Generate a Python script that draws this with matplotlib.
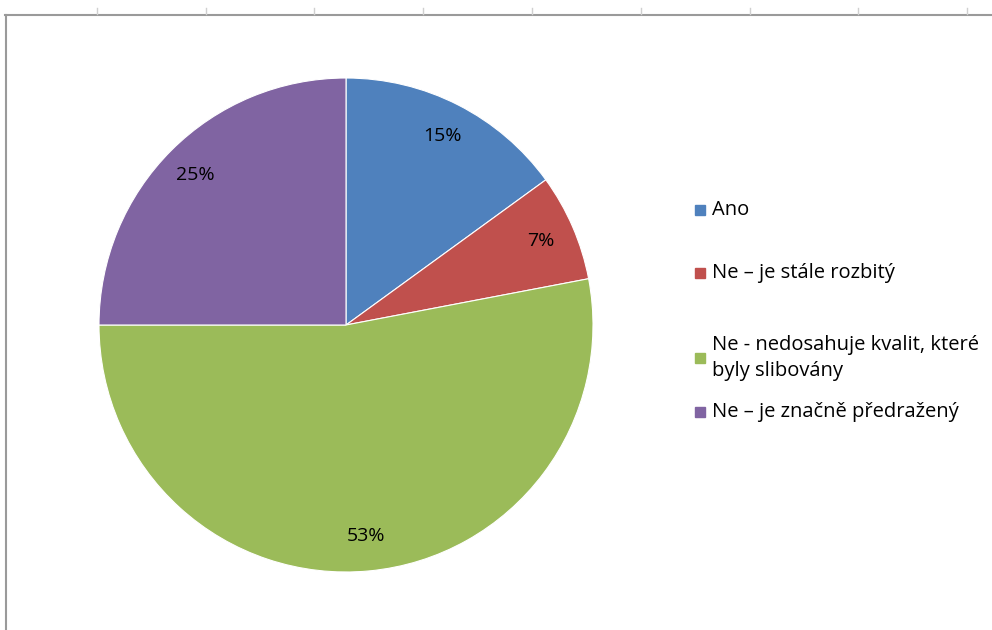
import matplotlib.pyplot as plt
from matplotlib.lines import Line2D
from matplotlib.patches import Rectangle

labels = ["Ano", "Ne – je stále rozbitý",
          "Ne - nedosahuje kvalit, které\nbyly slibovány",
          "Ne – je značně předražený"]
values = [15, 7, 53, 25]
colors = ["#4F81BD", "#C0504D", "#9BBB59", "#8064A2"]

W, H = 992, 630
fig = plt.figure(figsize=(W / 100, H / 100), dpi=100)
plt.rcParams['font.family'] = ['Open Sans', 'DejaVu Sans']

# pie centred at (346, 325) px with radius ~247 px
cx, cy, r = 346, 325, 247
ax = fig.add_axes([(cx - r) / W, (H - cy - r) / H, 2 * r / W, 2 * r / H])
ax.pie(values, colors=colors, startangle=90, counterclock=False,
       autopct=lambda p: f"{round(p)}%", pctdistance=0.86,
       wedgeprops=dict(edgecolor='white', linewidth=0.8),
       textprops=dict(fontsize=14, color='black'))
ax.set_xlim(-1, 1)
ax.set_ylim(-1, 1)
ax.set_aspect('equal')
ax.axis('off')

# worksheet frame: top edge with column ticks, left edge
gray = '#9a9a9a'
fig.add_artist(Line2D([5 / W, 1], [1 - 14.5 / H, 1 - 14.5 / H], color=gray, lw=1.5))
fig.add_artist(Line2D([6 / W, 6 / W], [0, 1 - 14.5 / H], color=gray, lw=1.5))
for x in [97, 206, 314, 423, 532, 641, 750, 858, 967]:
    fig.add_artist(Line2D([x / W, x / W], [1 - 8 / H, 1 - 14 / H], color='#d0d0d0', lw=1))

# legend entries
legend_y = [210, 273, 358, 412]
for lab, col, y in zip(labels, colors, legend_y):
    fig.add_artist(Rectangle(((700 - 5) / W, (H - y - 5) / H), 10 / W, 10 / H,
                             color=col, transform=fig.transFigure))
    fig.text(712 / W, (H - y) / H, lab, fontsize=14.5, va='center', ha='left',
             linespacing=1.35)

fig.savefig('out.png', dpi=100, facecolor='white')
